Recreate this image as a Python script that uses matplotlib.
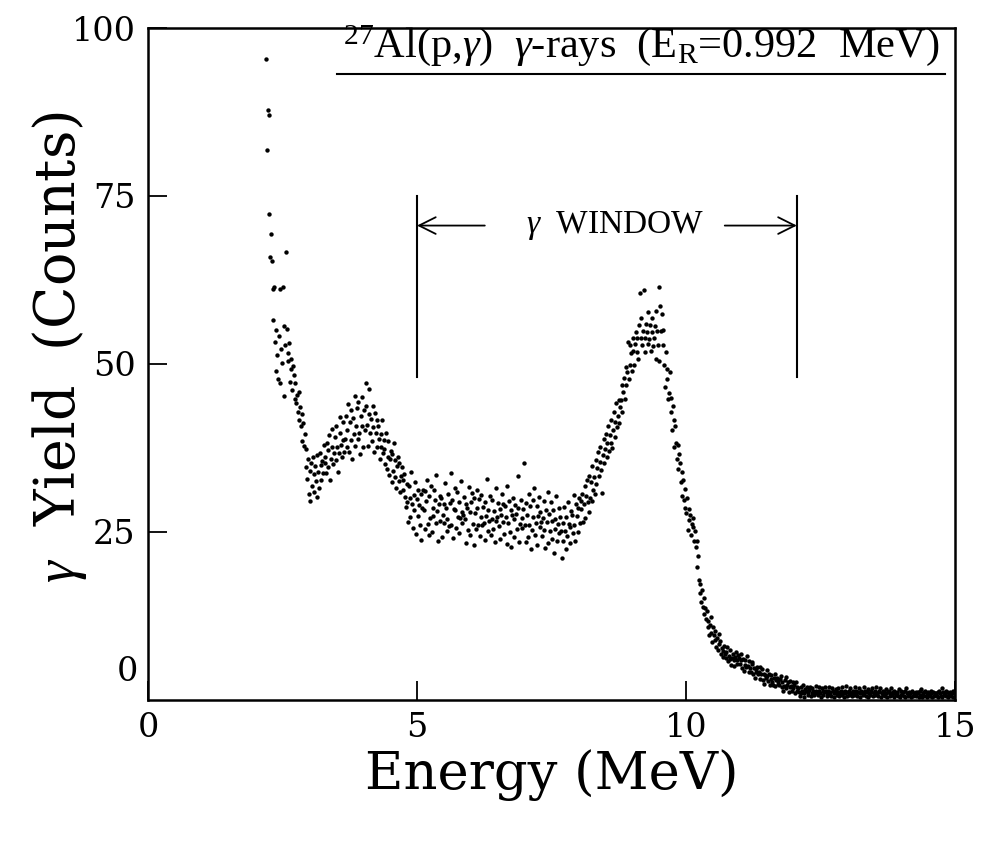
import numpy as np
import matplotlib
matplotlib.use("Agg")
import matplotlib.pyplot as plt

# 1024 channel ADC over 0-15 MeV
MEV_PER_CH = 15.0 / 1024

# yield per channel (each block starts at its channel)
ch_low = 150
counts_low = [
    95.4, 81.8, 87.8, 72.3, 87.0, 65.9, 69.3, 65.3, 61.1, 56.6, 61.5, 53.2, 55.1, 48.9, 51.4, 47.7, 54.2, 61.1, 47.2, 52.3, 50.1, 61.4, 55.6, 45.3, 52.8,
    66.6, 55.2, 51.7, 50.4, 53.1, 47.3, 50.8, 49.2, 46.1, 49.7, 48.3, 44.8, 47.1, 44.2, 45.4, 42.9, 45.8, 41.7, 43.6, 40.8, 42.5, 38.6, 41.2, 37.8, 39.6,
    37.3, 34.6, 32.9, 35.8, 30.7, 34.1, 29.6, 35.3, 31.8, 36.2, 33.7, 30.9, 34.8, 32.6, 36.4, 30.2, 33.9, 31.5, 36.8, 34.9, 32.7, 35.6, 33.8, 37.9, 35.2,
    36.1, 33.8, 38.3, 34.6, 37.2, 39.4, 32.8, 35.9, 37.7, 40.3, 35.1, 36.8, 39.1, 35.7, 40.8, 37.6, 33.9, 36.7, 39.8, 42.1, 37.9, 36.2, 38.7, 41.3, 36.9,
    38.8, 42.3, 37.6, 40.2, 44.1, 36.9, 41.4, 43.2, 38.7, 35.8, 41.9, 39.6, 45.2, 37.8, 40.7, 43.4, 38.9, 44.3, 39.7, 36.6, 42.2, 45.1, 40.8, 37.7, 43.1,
    40.2, 43.8, 47.2, 40.9, 37.8, 42.6, 46.3, 39.7, 41.8, 38.6, 43.7, 40.6, 36.9, 42.7, 39.8, 41.7, 37.6, 40.8, 38.9, 35.8, 39.6, 37.7, 41.6, 36.8, 38.7,
    37.4, 35.1, 39.7, 34.3, 36.2, 38.6, 33.5, 35.9, 37.1, 32.4, 36.6, 34.0, 38.3, 33.2, 35.7, 31.5, 34.8, 36.1, 32.6, 35.3, 30.9, 33.4, 34.7, 31.2, 32.8,
    33.6, 30.2, 28.7, 32.1, 29.4, 26.5, 31.8, 30.0, 27.3, 33.9, 29.1, 25.6, 30.5, 28.2, 32.4, 24.7, 29.9, 27.4, 31.3, 29.0, 26.1, 30.7, 23.8, 28.5, 31.2,
]

ch_flat = 350
counts_flat = [
    28.3, 31.1, 25.4, 29.6, 32.7, 26.2, 24.5, 30.3, 27.1, 31.9, 25.0, 28.6, 27.4, 31.2, 29.8, 26.3, 33.5, 28.1, 23.6, 29.2, 30.4, 26.7, 30.0, 24.3, 27.5,
    29.1, 26.4, 32.3, 28.5, 25.2, 27.0, 30.6, 25.9, 29.3, 33.8, 26.1, 29.7, 24.1, 28.4, 31.5, 28.2, 25.6, 30.9, 27.3, 24.8, 29.5, 27.1, 32.6, 28.0, 26.4,
    27.6, 30.2, 26.9, 23.4, 29.1, 28.5, 25.3, 31.7, 28.0, 24.6, 29.4, 30.8, 26.2, 30.0, 23.1, 27.8, 25.5, 31.3, 28.6, 26.1, 29.9, 24.4, 27.2, 30.5, 26.0,
    28.7, 26.3, 29.5, 23.8, 27.4, 32.9, 25.1, 28.2, 26.6, 30.3, 24.5, 27.0, 29.8, 25.4, 28.1, 23.5, 26.7, 31.6, 27.2, 29.3, 25.9, 28.4, 24.0, 27.6, 30.7,
    26.5, 29.2, 24.7, 28.9, 27.3, 31.8, 23.2, 26.4, 29.6, 25.0, 28.3, 22.7, 27.5, 30.1, 26.9, 24.3, 29.0, 27.7, 25.4, 33.4, 28.6, 23.5, 26.2, 29.8, 27.1,
    25.6, 28.4, 35.2, 26.1, 23.5, 29.3, 27.6, 24.2, 30.6, 26.0, 28.8, 22.4, 25.3, 29.7, 27.2, 31.5, 24.6, 26.3, 28.9, 23.1, 27.4, 30.2, 25.8, 28.0, 26.5,
    24.4, 27.1, 29.6, 25.3, 22.6, 28.2, 26.5, 30.9, 23.4, 27.7, 25.2, 29.4, 24.0, 26.6, 28.3, 21.8, 27.0, 25.5, 30.4, 23.7, 26.2, 28.5, 24.9, 27.3, 25.1,
    21.2, 26.4, 23.6, 28.7, 25.1, 22.5, 27.3, 24.4, 29.5, 26.2, 23.3, 25.7, 28.1, 27.6, 24.8, 30.5, 26.0, 23.7, 29.2, 27.4, 25.0, 28.6, 30.1, 26.3, 29.6,
]

ch_peak = 550
counts_peak = [
    28.4, 30.6, 26.5, 29.2, 31.9, 27.1, 30.3, 32.7, 29.5, 28.0, 33.4, 30.1, 32.5, 29.6, 34.8, 31.3, 33.2, 30.6, 35.7, 32.1, 34.5, 36.9, 33.3, 35.4, 37.6,
    34.2, 30.8, 36.5, 38.9, 35.3, 37.4, 39.6, 36.1, 38.2, 40.8, 37.0, 39.5, 38.3, 41.7, 37.5, 40.2, 42.9, 39.1, 41.4, 44.2, 40.6, 42.3, 44.7, 41.2, 43.6,
    44.7, 42.8, 46.9, 45.8, 47.9, 44.8, 49.6, 46.9, 48.8, 53.2, 47.8, 49.9, 52.8, 51.7, 48.9, 53.8, 51.9, 49.8, 52.9, 54.8, 51.8, 53.9, 50.8, 55.8, 60.6,
    53.8, 56.9, 52.8, 54.9, 61.0, 53.9, 51.8, 55.9, 54.7, 52.9, 57.8, 53.7, 55.8, 51.9, 54.8, 56.9, 52.7, 53.9, 55.7, 57.9, 50.8, 54.9, 52.8, 50.4, 61.4,
    58.6, 54.9, 57.4, 52.8, 55.0, 49.8, 46.6, 51.8, 49.2, 47.7, 44.8, 45.7, 48.8, 42.9, 44.9, 40.2, 43.8, 41.7, 37.7, 40.8, 38.3, 35.8, 37.9, 34.3, 36.6,
    35.2, 32.5, 33.9, 30.3, 32.8, 29.7, 31.4, 28.6, 27.8, 30.1, 25.3, 28.4, 26.8, 27.6, 24.6, 26.2, 25.8, 27.1, 23.7, 25.2, 22.8, 23.6, 19.8, 21.4, 17.9,
]

ch_tail = 700
counts_tail = [
    17.2, 15.9, 14.6, 16.3, 13.9, 15.1, 12.8, 13.7, 12.1, 13.3, 10.9, 11.8, 9.7, 11.2, 12.4, 9.9, 8.7, 10.8, 9.6, 8.9, 10.3, 7.9, 9.2, 7.5, 9.8,
    8.3, 8.8, 6.9, 7.8, 6.4, 7.3, 8.1, 6.8, 6.2, 7.1, 7.9, 5.8, 6.6, 6.1, 7.4, 5.2, 6.3, 6.9, 5.9, 5.1, 6.4, 7.2, 5.4, 6.0, 6.7,
    6.2, 5.3, 6.8, 5.9, 4.8, 6.1, 4.3, 5.2, 5.9, 4.9, 6.6, 5.1, 4.2, 5.8, 4.7, 4.1, 5.3, 5.7, 3.9, 4.8, 3.3, 4.6, 4.1, 4.9, 3.8,
    4.2, 4.9, 3.1, 3.8, 4.6, 2.9, 3.9, 2.4, 3.7, 3.2, 4.4, 3.6, 2.8, 3.9, 2.3, 3.1, 3.7, 2.7, 2.2, 3.3, 3.8, 2.1, 2.9, 3.2, 2.4,
    2.8, 2.2, 3.1, 3.6, 1.9, 2.7, 1.4, 2.1, 2.9, 1.8, 3.4, 2.3, 2.6, 1.2, 1.9, 2.8, 2.1, 1.3, 2.7, 1.8, 2.2, 1.1, 2.6, 1.9, 1.4,
    1.8, 1.2, 0.6, 1.9, 1.1, 1.4, 2.3, 1.0, 0.5, 1.7, 1.3, 2.0, 0.7, 1.2, 1.5, 1.9, 0.6, 1.1, 1.8, 1.3, 0.8, 1.2, 2.1, 1.4, 1.0,
    0.7, 1.9, 1.3, 1.1, 0.5, 1.8, 1.4, 0.8, 1.2, 2.0, 1.3, 0.6, 1.1, 1.4, 1.9, 0.7, 1.2, 0.6, 1.8, 1.3, 1.1, 0.5, 1.2, 1.7, 0.8,
    1.2, 1.8, 0.6, 1.1, 1.4, 0.7, 1.9, 1.2, 0.5, 1.3, 1.1, 2.1, 0.6, 1.2, 0.8, 1.4, 1.8, 1.1, 0.6, 1.3, 1.2, 0.7, 1.9, 1.1, 1.3,
    0.6, 1.2, 1.8, 1.1, 0.5, 1.3, 1.2, 0.7, 1.9, 1.1, 1.4, 0.6, 1.2, 1.7, 0.5, 1.1, 0.7, 1.3, 1.2, 1.8, 0.6, 1.1, 0.8, 1.3, 1.9,
    1.1, 0.6, 1.2, 1.4, 1.8, 0.5, 1.1, 0.7, 1.3, 1.2, 0.6, 1.7, 1.1, 0.5, 1.2, 1.4, 0.6, 1.1, 1.8, 0.7, 1.2, 1.3, 0.5, 1.1, 0.8,
    1.2, 1.1, 0.6, 1.7, 0.5, 1.3, 0.7, 1.1, 1.2, 0.6, 1.3, 0.5, 1.8, 1.1, 0.6, 1.2, 0.7, 1.1, 0.5, 1.3, 1.2, 0.6, 1.1, 0.7, 1.2,
    0.6, 1.1, 1.2, 0.5, 1.3, 0.7, 1.7, 0.5, 1.1, 0.6, 1.2, 1.3, 0.6, 1.1, 0.5, 1.2, 0.7, 0.6, 1.1, 1.3, 0.5, 1.2, 0.6, 1.1, 0.7,
    1.1, 0.6, 1.2, 0.5, 1.3, 1.1, 0.6, 1.8, 0.5, 1.2, 0.7, 1.1, 0.6, 1.3, 1.2, 0.5, 1.1, 0.7, 1.2, 0.6, 1.1, 1.3, 0.5, 1.2,
]

# gamma window limits (MeV)
win_lo = 5.0
win_hi = 12.06

plt.rcParams['mathtext.fontset'] = 'custom'
plt.rcParams['mathtext.rm'] = 'Liberation Serif'
plt.rcParams['mathtext.it'] = 'Liberation Serif:italic'
plt.rcParams['font.family'] = 'DejaVu Serif'

fig = plt.figure(figsize=(9.81, 8.41), dpi=100)
ax = fig.add_axes([0.1509, 0.1677, 0.8226, 0.7990])

for ch0, cnt in [(ch_low, counts_low), (ch_flat, counts_flat),
                 (ch_peak, counts_peak), (ch_tail, counts_tail)]:
    e = (ch0 + np.arange(len(cnt))) * MEV_PER_CH
    ax.scatter(e, cnt, s=10, c='black', linewidths=0, zorder=3)

ax.set_xlim(0, 15)
ax.set_ylim(0, 100)
ax.set_xticks([0, 5, 10, 15])
ax.set_yticks([25, 50, 75, 100])
ax.tick_params(direction='in', length=14, width=1.3, labelsize=24, pad=9)
for s in ax.spines.values():
    s.set_linewidth(1.8)
ax.text(-0.012, 0.042, '0', transform=ax.transAxes, ha='right', va='center',
        fontsize=24)

fig.text(552 / 981, 1 - 775 / 841, 'Energy (MeV)', ha='center', va='center',
         fontsize=38)
fig.text(60 / 981, 1 - 347 / 841, r'$\gamma$  Yield  (Counts)', ha='center',
         va='center', rotation=90, fontsize=40)

# title
ax.text(9.16, 97.4,
        r'$^{27}$Al(p,$\gamma$)  $\gamma$-rays  (E$_{\rm R}$=0.992  MeV)',
        ha='center', va='center', fontsize=30.5, family='Liberation Serif')
ax.plot([3.51, 14.81], [93.1, 93.1], color='black', lw=1.5)

# gamma window marker
ax.plot([win_lo, win_lo], [48, 75], color='black', lw=1.5)
ax.plot([win_hi, win_hi], [48, 75], color='black', lw=1.5)
arr = dict(arrowstyle='->', lw=1.3, color='black', mutation_scale=30,
           shrinkA=0, shrinkB=0)
ax.annotate('', xy=(win_lo, 70.6), xytext=(6.26, 70.6), arrowprops=arr)
ax.annotate('', xy=(win_hi, 70.6), xytext=(10.72, 70.6), arrowprops=arr)
ax.text(8.68, 70.6, r'$\gamma$  WINDOW', ha='center', va='center',
        fontsize=24, family='Liberation Serif')

fig.savefig('out.png', dpi=100)
